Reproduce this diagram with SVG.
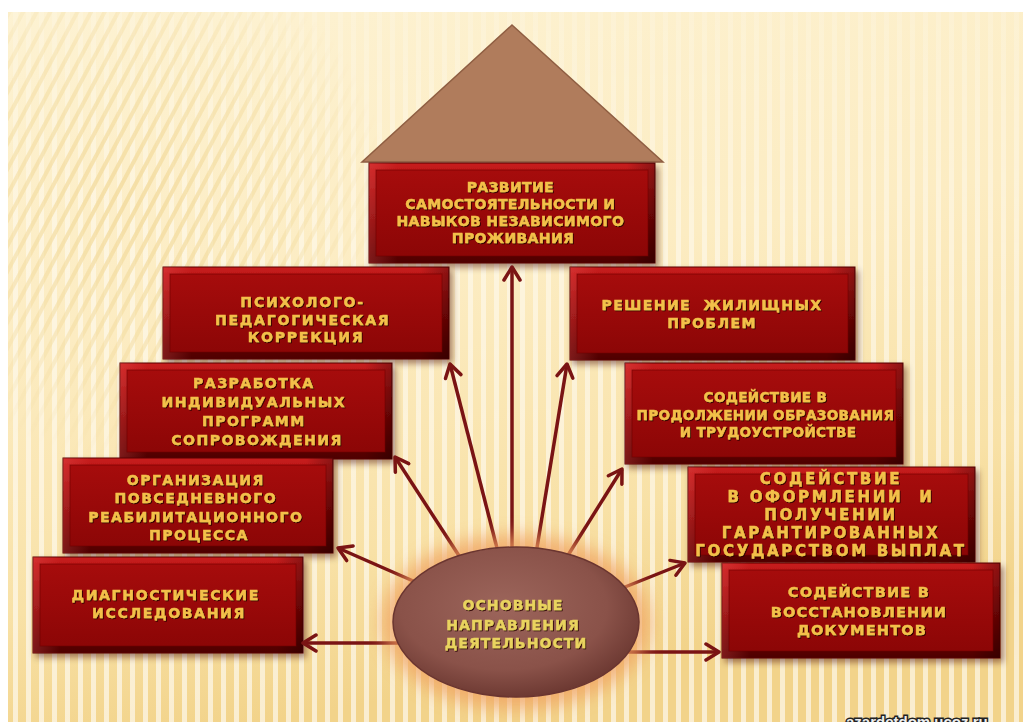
<svg xmlns="http://www.w3.org/2000/svg" width="1023" height="722" viewBox="0 0 1023 722">
<defs>
  <linearGradient id="bg" x1="0" y1="0" x2="0.25" y2="1">
    <stop offset="0" stop-color="#fdf2d2"/>
    <stop offset="0.45" stop-color="#fcecc2"/>
    <stop offset="0.8" stop-color="#f8e1a6"/>
    <stop offset="1" stop-color="#f2d38a"/>
  </linearGradient>
  <pattern id="vstripes" width="13" height="20" patternUnits="userSpaceOnUse">
    <rect x="0" y="0" width="5" height="20" fill="#ffffff"/>
  </pattern>
  <pattern id="dstripes" width="12" height="20" patternUnits="userSpaceOnUse" patternTransform="rotate(28)">
    <rect x="0" y="0" width="4" height="20" fill="#f3dca0"/>
  </pattern>
  <linearGradient id="vmaskG" x1="0" y1="0" x2="0" y2="1">
    <stop offset="0" stop-color="#fff" stop-opacity="0.15"/>
    <stop offset="0.35" stop-color="#fff" stop-opacity="0.45"/>
    <stop offset="1" stop-color="#fff" stop-opacity="0.6"/>
  </linearGradient>
  <mask id="vmask" maskUnits="userSpaceOnUse" x="0" y="0" width="1023" height="722">
    <rect x="0" y="0" width="1023" height="722" fill="url(#vmaskG)"/>
  </mask>
  <radialGradient id="dmaskG" cx="130" cy="200" r="260" gradientUnits="userSpaceOnUse">
    <stop offset="0" stop-color="#fff" stop-opacity="0.9"/>
    <stop offset="0.6" stop-color="#fff" stop-opacity="0.5"/>
    <stop offset="1" stop-color="#fff" stop-opacity="0"/>
  </radialGradient>
  <mask id="dmask" maskUnits="userSpaceOnUse" x="0" y="0" width="1023" height="722">
    <rect x="0" y="0" width="1023" height="722" fill="url(#dmaskG)"/>
  </mask>
  <linearGradient id="bevV" x1="0" y1="0" x2="0" y2="1">
    <stop offset="0" stop-color="#c81c1c"/>
    <stop offset="0.5" stop-color="#8c0707"/>
    <stop offset="1" stop-color="#4e0000"/>
  </linearGradient>
  <linearGradient id="bevH" x1="0" y1="0" x2="1" y2="0">
    <stop offset="0" stop-color="#ff6a6a" stop-opacity="0.25"/>
    <stop offset="0.1" stop-color="#ff6a6a" stop-opacity="0"/>
    <stop offset="0.9" stop-color="#000" stop-opacity="0"/>
    <stop offset="1" stop-color="#000" stop-opacity="0.3"/>
  </linearGradient>
  <linearGradient id="faceG" x1="0" y1="0" x2="0" y2="1">
    <stop offset="0" stop-color="#a60c0c"/>
    <stop offset="1" stop-color="#8c0606"/>
  </linearGradient>
  <radialGradient id="ellG" cx="0.45" cy="0.4" r="0.6">
    <stop offset="0" stop-color="#9c655b"/>
    <stop offset="0.7" stop-color="#8a5249"/>
    <stop offset="1" stop-color="#6e3a33"/>
  </radialGradient>
  <filter id="boxsh" x="-10%" y="-10%" width="125%" height="130%">
    <feDropShadow dx="3" dy="4" stdDeviation="3" flood-color="#3a1000" flood-opacity="0.45"/>
  </filter>
  <filter id="txtsh" x="-5%" y="-20%" width="110%" height="140%">
    <feDropShadow dx="1" dy="1" stdDeviation="0.4" flood-color="#2a0000" flood-opacity="0.9"/>
  </filter>
  <filter id="glow" x="-30%" y="-30%" width="160%" height="160%">
    <feGaussianBlur stdDeviation="9"/>
  </filter>
  <marker id="arr" viewBox="0 0 20 20" refX="17" refY="10" markerWidth="20" markerHeight="20" markerUnits="userSpaceOnUse" orient="auto">
    <path d="M4,2 L17,10 L4,18" fill="none" stroke="#7a1414" stroke-width="3.5" stroke-linecap="round" stroke-linejoin="round"/>
  </marker>
  <style>
    .bev { fill: url(#bevV); stroke: #5a0000; stroke-width: 1; filter: url(#boxsh); }
    .hl { fill: url(#bevH); }
    .face { fill: url(#faceG); stroke: #6e0000; stroke-width: 1; stroke-opacity: 0.6; }
    .lbl { font-family: "DejaVu Sans", "Liberation Sans", sans-serif; font-weight: bold; fill: #f3c04a; stroke: #f3c04a; stroke-width: 0.45; text-anchor: middle; filter: url(#txtsh); }
    .ell { font-family: "DejaVu Sans", "Liberation Sans", sans-serif; font-weight: bold; fill: #e9d35e; stroke: #e9d35e; stroke-width: 0.4; text-anchor: middle; font-size: 14px; letter-spacing: 1.1px; filter: url(#txtsh); }
    .conn line { stroke: #7a1414; stroke-width: 3.5; marker-end: url(#arr); }
  </style>
</defs>

<!-- background -->
<rect x="0" y="0" width="1023" height="722" fill="#ffffff"/>
<rect x="8" y="12" width="1015" height="710" fill="url(#bg)"/>
<rect x="8" y="12" width="1015" height="710" fill="url(#vstripes)" mask="url(#vmask)"/>
<rect x="8" y="12" width="1015" height="710" fill="url(#dstripes)" mask="url(#dmask)"/>

<!-- roof -->
<g id="roof">
  <polygon points="512,25 663,162 362,162" fill="#b07c5c" stroke="#8f5e42" stroke-width="1.5"/>
</g>

<!-- boxes -->
<g id="n1">
  <rect class="bev" x="369" y="163" width="286" height="100"/>
  <rect class="hl" x="369" y="163" width="286" height="100"/>
  <rect class="face" x="376" y="170" width="272" height="86"/>
  <text class="lbl" font-size="14" letter-spacing="0.4">
    <tspan x="513" y="192">РАЗВИТИЕ</tspan>
    <tspan x="513" y="209">САМОСТОЯТЕЛЬНОСТИ И</tspan>
    <tspan x="513" y="226">НАВЫКОВ НЕЗАВИСИМОГО</tspan>
    <tspan x="513" y="243">ПРОЖИВАНИЯ</tspan>
  </text>
</g>

<g id="n2">
  <rect class="bev" x="163" y="267" width="286" height="92"/>
  <rect class="hl" x="163" y="267" width="286" height="92"/>
  <rect class="face" x="170" y="274" width="272" height="78"/>
  <text class="lbl" font-size="14" letter-spacing="1.8">
    <tspan x="306" y="307">ПСИХОЛОГО-</tspan>
    <tspan x="306" y="325">ПЕДАГОГИЧЕСКАЯ</tspan>
    <tspan x="306" y="342">КОРРЕКЦИЯ</tspan>
  </text>
</g>

<g id="n3">
  <rect class="bev" x="570" y="267" width="285" height="93"/>
  <rect class="hl" x="570" y="267" width="285" height="93"/>
  <rect class="face" x="577" y="274" width="271" height="79"/>
  <text class="lbl" font-size="14" letter-spacing="1.4" xml:space="preserve"><tspan x="712" y="310">РЕШЕНИЕ  ЖИЛИЩНЫХ</tspan><tspan x="712" y="328">ПРОБЛЕМ</tspan></text>
</g>

<g id="n4">
  <rect class="bev" x="120" y="363" width="272" height="96"/>
  <rect class="hl" x="120" y="363" width="272" height="96"/>
  <rect class="face" x="127" y="370" width="258" height="82"/>
  <text class="lbl" font-size="14" letter-spacing="1.5">
    <tspan x="257" y="388">РАЗРАБОТКА</tspan>
    <tspan x="257" y="407">ИНДИВИДУАЛЬНЫХ</tspan>
    <tspan x="257" y="426">ПРОГРАММ</tspan>
    <tspan x="257" y="445">СОПРОВОЖДЕНИЯ</tspan>
  </text>
</g>

<g id="n5">
  <rect class="bev" x="625" y="363" width="278" height="101"/>
  <rect class="hl" x="625" y="363" width="278" height="101"/>
  <rect class="face" x="632" y="370" width="264" height="87"/>
  <text class="lbl" font-size="13.5" letter-spacing="0.4">
    <tspan x="768" y="402">СОДЕЙСТВИЕ В</tspan>
    <tspan x="768" y="420">ПРОДОЛЖЕНИИ ОБРАЗОВАНИЯ</tspan>
    <tspan x="768" y="437">И ТРУДОУСТРОЙСТВЕ</tspan>
  </text>
</g>

<g id="n6">
  <rect class="bev" x="63" y="458" width="270" height="95"/>
  <rect class="hl" x="63" y="458" width="270" height="95"/>
  <rect class="face" x="70" y="465" width="256" height="81"/>
  <text class="lbl" font-size="14" letter-spacing="1.5">
    <tspan x="199" y="485">ОРГАНИЗАЦИЯ</tspan>
    <tspan x="199" y="503">ПОВСЕДНЕВНОГО</tspan>
    <tspan x="199" y="522">РЕАБИЛИТАЦИОННОГО</tspan>
    <tspan x="199" y="540">ПРОЦЕССА</tspan>
  </text>
</g>

<g id="n7">
  <rect class="bev" x="688" y="467" width="287" height="95"/>
  <rect class="hl" x="688" y="467" width="287" height="95"/>
  <rect class="face" x="695" y="474" width="273" height="81"/>
  <text class="lbl" font-size="15" letter-spacing="2.7" xml:space="preserve"><tspan x="831" y="484">СОДЕЙСТВИЕ</tspan><tspan x="831" y="502">В ОФОРМЛЕНИИ  И</tspan><tspan x="831" y="520">ПОЛУЧЕНИИ</tspan><tspan x="831" y="538">ГАРАНТИРОВАННЫХ</tspan><tspan x="831" y="556">ГОСУДАРСТВОМ ВЫПЛАТ</tspan></text>
</g>

<g id="n8">
  <rect class="bev" x="33" y="557" width="270" height="96"/>
  <rect class="hl" x="33" y="557" width="270" height="96"/>
  <rect class="face" x="40" y="564" width="256" height="82"/>
  <text class="lbl" font-size="14" letter-spacing="1.7">
    <tspan x="169" y="600">ДИАГНОСТИЧЕСКИЕ</tspan>
    <tspan x="169" y="618">ИССЛЕДОВАНИЯ</tspan>
  </text>
</g>

<g id="n9">
  <rect class="bev" x="722" y="563" width="278" height="95"/>
  <rect class="hl" x="722" y="563" width="278" height="95"/>
  <rect class="face" x="729" y="570" width="264" height="81"/>
  <text class="lbl" font-size="14.5" letter-spacing="1.2">
    <tspan x="862" y="597">СОДЕЙСТВИЕ В</tspan>
    <tspan x="862" y="617">ВОССТАНОВЛЕНИИ</tspan>
    <tspan x="862" y="635">ДОКУМЕНТОВ</tspan>
  </text>
</g>

<!-- connectors -->
<g id="connectors" class="conn">
  <line x1="512" y1="560" x2="512" y2="267"/>
  <line x1="500" y1="560" x2="450" y2="364"/>
  <line x1="535" y1="560" x2="567" y2="364"/>
  <line x1="465" y1="565" x2="395" y2="457"/>
  <line x1="560" y1="568" x2="622" y2="469"/>
  <line x1="420" y1="584" x2="338" y2="548"/>
  <line x1="610" y1="593" x2="685" y2="563"/>
  <line x1="410" y1="643" x2="303" y2="643"/>
  <line x1="620" y1="652" x2="719" y2="652"/>
</g>

<!-- center ellipse -->
<g id="center">
  <ellipse cx="516" cy="622" rx="134" ry="87" fill="#f0a060" opacity="0.75" filter="url(#glow)"/>
  <ellipse cx="516" cy="622" rx="123" ry="75" fill="url(#ellG)" stroke="#6a3530" stroke-width="1.5"/>
  <text class="ell">
    <tspan x="516" y="610">ОСНОВНЫЕ</tspan>
    <tspan x="516" y="630">НАПРАВЛЕНИЯ</tspan>
    <tspan x="516" y="648">ДЕЯТЕЛЬНОСТИ</tspan>
  </text>
</g>

<!-- watermark -->
<text x="846" y="727" font-family="Liberation Sans, sans-serif" font-weight="bold" font-size="15" fill="#eeeeee" stroke="#222222" stroke-width="3" paint-order="stroke">azardetdom.ucoz.ru</text>
</svg>
